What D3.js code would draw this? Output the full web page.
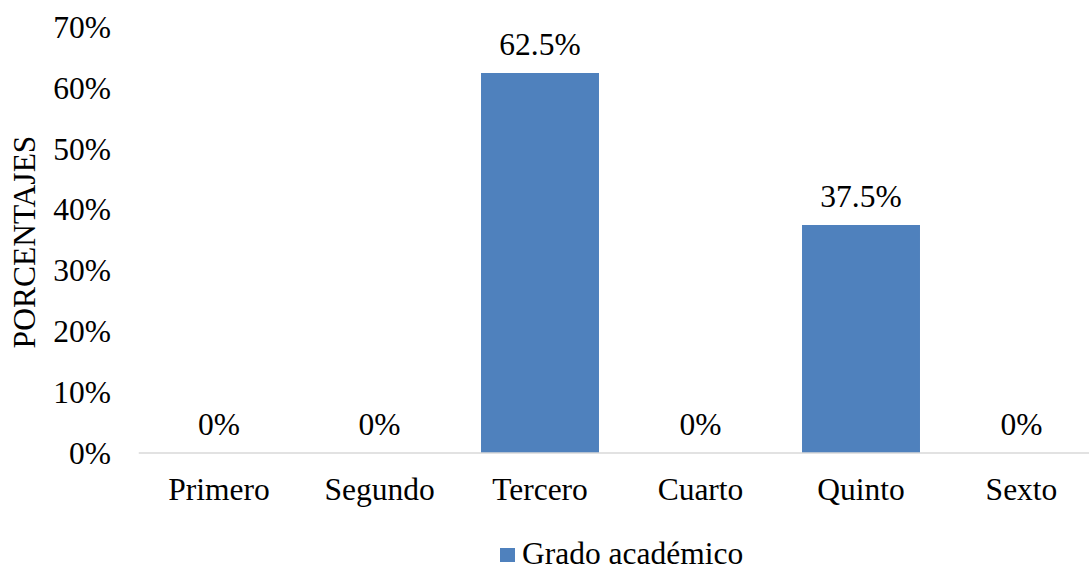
<!DOCTYPE html>
<html><head><meta charset="utf-8">
<script src="https://cdn.jsdelivr.net/npm/d3@7"></script>
</head><body style="margin:0;background:#fff;overflow:hidden">
<svg id="c" width="1089" height="569" style="display:block"></svg>
<script>
const categories = ["Primero","Segundo","Tercero","Cuarto","Quinto","Sexto"];
const values = [0, 0, 0.625, 0, 0.375, 0];
const valueLabels = ["0%","0%","62.5%","0%","37.5%","0%"];
const yTicks = [0,0.1,0.2,0.3,0.4,0.5,0.6,0.7];
const seriesName = "Grado académico";
const yTitle = "PORCENTAJES";

const svg = d3.select("#c").style("font-family", '"Liberation Serif"');
const FS = "31.5px";
const FF = '"Liberation Serif"';
const x = d3.scaleBand().domain(categories).range([138.75, 1101.75]).paddingInner(0.265).paddingOuter(0.1325);
const y = d3.scaleLinear().domain([0, 0.7]).range([453, 27.4]);

function txt(sel) { return sel.style("font-size", FS).style("font-family", FF).attr("fill", "#000"); }

// y tick labels
svg.selectAll("text.yt").data(yTicks).join("text").attr("class", "yt")
  .attr("x", 111).attr("y", d => y(d) + 10.5)
  .attr("text-anchor", "end").call(txt)
  .text(d3.format(".0%"));

// y title
svg.append("text").attr("transform", "translate(35,242) rotate(-90)")
  .attr("text-anchor", "middle").call(txt).text(yTitle);

// bars
svg.selectAll("rect.bar").data(values).join("rect").attr("class", "bar")
  .attr("x", (d,i) => x(categories[i])).attr("width", x.bandwidth())
  .attr("y", d => y(d)).attr("height", d => y(0) - y(d))
  .attr("fill", "#4F81BD");

// baseline
svg.append("line").attr("x1", x.range()[0]).attr("x2", x.range()[1])
  .attr("y1", y(0)).attr("y2", y(0)).attr("stroke", "#D9D9D9").attr("stroke-width", 1.5);

// data labels
svg.selectAll("text.vl").data(values).join("text").attr("class", "vl")
  .attr("x", (d,i) => x(categories[i]) + x.bandwidth()/2)
  .attr("y", d => y(d) - 18)
  .attr("text-anchor", "middle").call(txt)
  .text((d,i) => valueLabels[i]);

// category labels
svg.selectAll("text.xl").data(categories).join("text").attr("class", "xl")
  .attr("x", d => x(d) + x.bandwidth()/2).attr("y", 500)
  .attr("text-anchor", "middle").call(txt).text(d => d);

// legend
svg.append("rect").attr("x", 500).attr("y", 548).attr("width", 15).attr("height", 14).attr("fill", "#4F81BD");
svg.append("text").attr("x", 522).attr("y", 564).call(txt).text(seriesName);
</script></body></html>
